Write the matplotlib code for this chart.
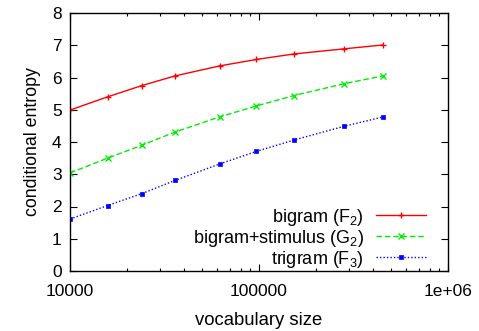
import matplotlib
matplotlib.use("Agg")
import matplotlib.pyplot as plt
from matplotlib.ticker import LogLocator, NullFormatter, FixedLocator, FixedFormatter

plt.rcParams['font.family'] = ['Liberation Sans', 'DejaVu Sans']
plt.rcParams['mathtext.fontset'] = 'custom'
plt.rcParams['mathtext.rm'] = 'Liberation Sans'
plt.rcParams['mathtext.it'] = 'Liberation Sans'

vocab_size = [10000, 15800, 24000, 36000, 62000, 97000, 153000, 283000, 455000]
bigram = [4.99, 5.40, 5.75, 6.05, 6.36, 6.56, 6.73, 6.89, 7.01]
bigram_stimulus = [3.04, 3.50, 3.90, 4.31, 4.78, 5.12, 5.44, 5.81, 6.05]
trigram = [1.61, 2.03, 2.40, 2.81, 3.32, 3.71, 4.06, 4.49, 4.78]

labels = ["bigram (F$_2$)", "bigram+stimulus (G$_2$)", "trigram (F$_3$)"]

fig = plt.figure(figsize=(4.79, 3.31), dpi=100)
ax = fig.add_axes([70 / 479, 1 - 271 / 331, 378 / 479, 258 / 331])

ax.plot(vocab_size, bigram, color='#ff0000', lw=1.0, ls='-',
        marker='+', ms=5, mew=1.0, label=labels[0])
ax.plot(vocab_size, bigram_stimulus, color='#00ee00', lw=1.0, ls=(0, (4, 2)),
        marker='x', ms=4, mew=1.0, label=labels[1])
ax.plot(vocab_size, trigram, color='#0000ff', lw=1.0, ls=(0, (1, 1.5)),
        marker='s', ms=3, mew=0.5, label=labels[2])

ax.set_xscale('log')
ax.set_xlim(1e4, 1e6)
ax.set_ylim(0, 8)

ax.xaxis.set_major_locator(FixedLocator([1e4, 1e5, 1e6]))
ax.xaxis.set_major_formatter(FixedFormatter(["10000", "100000", "1e+06"]))
ax.xaxis.set_minor_locator(LogLocator(base=10, subs=range(2, 10)))
ax.xaxis.set_minor_formatter(NullFormatter())
ax.set_yticks(range(0, 9))

ax.tick_params(which='both', direction='in', top=True, right=True,
               labelsize=12.5, color='black')
ax.tick_params(axis='x', pad=9)
ax.tick_params(axis='y', pad=6)
ax.tick_params(which='major', length=5, width=0.8)
ax.tick_params(which='minor', length=2.5, width=0.8)
for s in ax.spines.values():
    s.set_linewidth(1.0)

ax.set_xlabel("vocabulary size", fontsize=13.3, labelpad=10)
ax.set_ylabel("conditional entropy", fontsize=12.8, labelpad=8)

leg = ax.legend(loc='lower right', bbox_to_anchor=((426 - 70) / 378, 0.005),
                frameon=False, fontsize=13.0, markerfirst=False,
                handlelength=2.75, labelspacing=0.0, handletextpad=0.7,
                borderpad=0, borderaxespad=0)
for t in leg.get_texts():
    t.set_ha('right')
leg._legend_box.align = "right"

fig.savefig("out.png", dpi=100)
